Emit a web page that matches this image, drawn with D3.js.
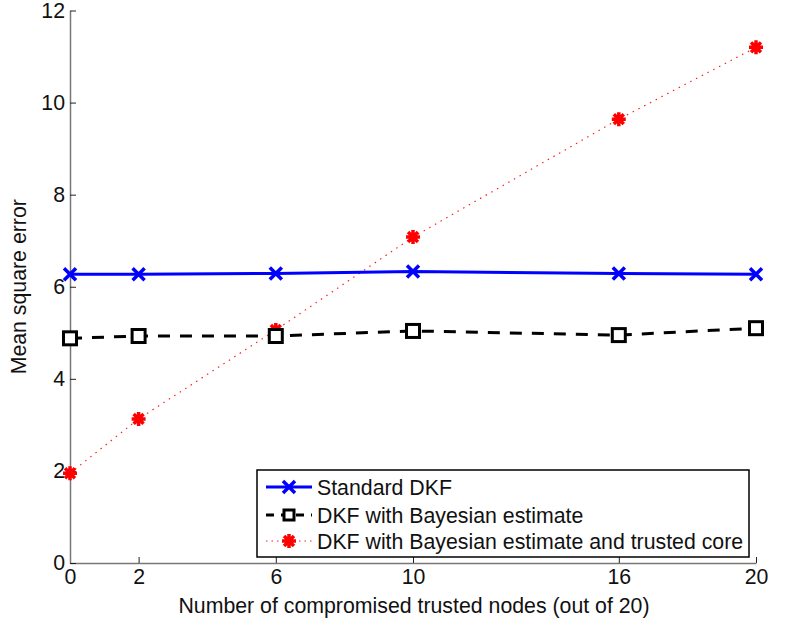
<!DOCTYPE html>
<html lang="en">
<head>
<meta charset="UTF-8">
<script src="https://d3js.org/d3.v7.min.js"></script>
<style>
  body { margin: 0; background: #fff; }
  text { font-family: "Liberation Sans", Arial, sans-serif; }
</style>
</head>
<body>
<div id="here"></div>
<script>
  // data
  const xTicks = [0, 2, 6, 10, 16, 20];
  const yTicks = [0, 2, 4, 6, 8, 10, 12];
  const nodes = [0, 2, 6, 10, 16, 20];
  const standardDKF = [6.27, 6.27, 6.29, 6.33, 6.29, 6.27];
  const bayesDKF = [4.88, 4.93, 4.93, 5.04, 4.95, 5.10];
  const trustedCoreDKF = [1.95, 3.13, 5.06, 7.08, 9.64, 11.2];
  const seriesNames = ["Standard DKF", "DKF with Bayesian estimate", "DKF with Bayesian estimate and trusted core"];

  const W = 789, H = 626;
  const m = { left: 70, right: 33, top: 10.5, bottom: 63 };
  const FS = 21.3;

  const svg = d3.select("#here").append("svg")
    .attr("width", W).attr("height", H);

  const x = d3.scaleLinear().domain([0, 20]).range([m.left, W - m.right]);
  const y = d3.scaleLinear().domain([0, 12]).range([H - m.bottom, m.top]);

  // axes
  const xAxis = svg.append("g")
    .attr("transform", `translate(0,${y(0)})`)
    .call(d3.axisBottom(x).tickValues(xTicks).tickSize(-6).tickPadding(6).tickSizeOuter(0));
  const yAxis = svg.append("g")
    .attr("transform", `translate(${x(0)},0)`)
    .call(d3.axisLeft(y).tickValues(yTicks).tickSize(-6).tickPadding(5).tickSizeOuter(0));

  [xAxis, yAxis].forEach(a => {
    a.attr("font-size", FS).attr("font-family", '"Liberation Sans", Arial, sans-serif');
    a.select(".domain").attr("stroke", "#777").attr("stroke-width", 1.5);
    a.selectAll(".tick line").attr("stroke", "#222");
    a.selectAll(".tick text").attr("fill", "#111");
  });
  xAxis.selectAll(".tick text").attr("dy", "0.71em");

  svg.append("text")
    .attr("x", (x(0) + x(20)) / 2 + 1).attr("y", H - 13)
    .attr("text-anchor", "middle").attr("font-size", FS).attr("fill", "#111")
    .text("Number of compromised trusted nodes (out of 20)");
  svg.append("text")
    .attr("transform", `translate(26,${(y(0) + y(12)) / 2}) rotate(-90)`)
    .attr("text-anchor", "middle").attr("font-size", FS).attr("fill", "#111")
    .text("Mean square error");

  const line = d3.line().x((d, i) => x(nodes[i])).y(d => y(d));

  // red dotted
  svg.append("path").datum(trustedCoreDKF)
    .attr("d", line).attr("fill", "none")
    .attr("stroke", "#ff2020").attr("stroke-width", 1.2).attr("stroke-dasharray", "1.5,5");
  // black dashed
  svg.append("path").datum(bayesDKF)
    .attr("d", line).attr("fill", "none")
    .attr("stroke", "#000").attr("stroke-width", 3).attr("stroke-dasharray", "12,10");
  // blue solid
  svg.append("path").datum(standardDKF)
    .attr("d", line).attr("fill", "none")
    .attr("stroke", "#0000ff").attr("stroke-width", 3);

  function cross(g, cx, cy) {
    const s = 6;
    g.append("path")
      .attr("d", `M${cx - s},${cy - s}L${cx + s},${cy + s}M${cx - s},${cy + s}L${cx + s},${cy - s}`)
      .attr("stroke", "#0000ff").attr("stroke-width", 3.5);
  }
  function square(g, cx, cy) {
    const s = 6.5;
    g.append("rect").attr("x", cx - s).attr("y", cy - s).attr("width", 2 * s).attr("height", 2 * s)
      .attr("fill", "#fff").attr("stroke", "#000").attr("stroke-width", 3);
  }
  function star(g, cx, cy) {
    const s = 7;
    let d = "";
    for (let k = 0; k < 4; k++) {
      const a = k * Math.PI / 4;
      d += `M${cx - s * Math.cos(a)},${cy - s * Math.sin(a)}L${cx + s * Math.cos(a)},${cy + s * Math.sin(a)}`;
    }
    g.append("path").attr("d", d).attr("stroke", "#ff0000").attr("stroke-width", 3.5);
  }

  const mk = svg.append("g");
  nodes.forEach((n, i) => {
    star(mk, x(n), y(trustedCoreDKF[i]));
    square(mk, x(n), y(bayesDKF[i]));
    cross(mk, x(n), y(standardDKF[i]));
  });

  // legend
  const lg = svg.append("g").attr("transform", "translate(257,470)");
  lg.append("rect").attr("width", 492).attr("height", 87)
    .attr("fill", "#fff").attr("stroke", "#000").attr("stroke-width", 1.5);
  const rowY = [17, 45, 71];
  const styles = [
    { stroke: "#0000ff", w: 3, dash: null, m: cross },
    { stroke: "#000", w: 3, dash: "8,7", m: square },
    { stroke: "#ff2020", w: 1.2, dash: "1.5,4", m: star }
  ];
  seriesNames.forEach((name, i) => {
    const st = styles[i];
    lg.append("line").attr("x1", 9).attr("x2", 55).attr("y1", rowY[i]).attr("y2", rowY[i])
      .attr("stroke", st.stroke).attr("stroke-width", st.w)
      .attr("stroke-dasharray", st.dash);
    if (i === 1) {
      const s = 5;
      lg.append("rect").attr("x", 32 - s).attr("y", rowY[i] - s).attr("width", 2 * s).attr("height", 2 * s)
        .attr("fill", "#fff").attr("stroke", "#000").attr("stroke-width", 3);
    } else {
      st.m(lg, 32, rowY[i]);
    }
    lg.append("text").attr("x", 60).attr("y", rowY[i]).attr("dy", "0.36em")
      .attr("font-size", FS).attr("fill", "#111").text(name);
  });
</script>
</body>
</html>
